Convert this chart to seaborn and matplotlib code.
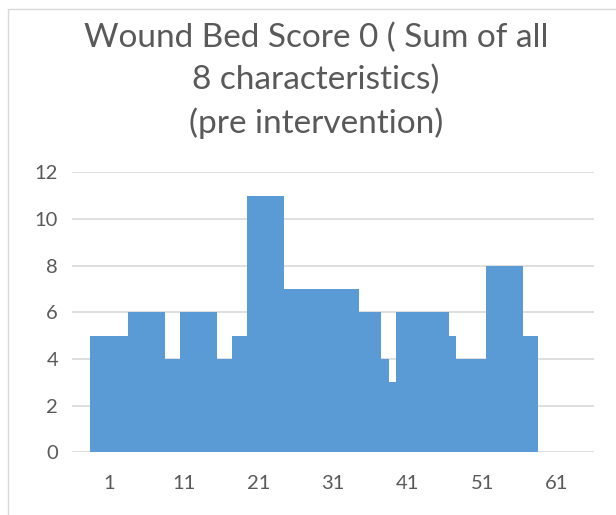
import numpy as np
import pandas as pd
import seaborn as sns
import matplotlib.pyplot as plt
from matplotlib.lines import Line2D

# bar positions (as they sit on the numeric x axis) and the bar heights
score_x = list(range(-1, 59))
score_counts = [5, 5, 5, 5, 5, 6, 6, 6, 6, 6,
                4, 4, 6, 6, 6, 6, 6, 4, 4, 5,
                5, 11, 11, 11, 11, 11, 7, 7, 7, 7,
                7, 7, 7, 7, 7, 7, 6, 6, 6, 4,
                3, 6, 6, 6, 6, 6, 6, 6, 5, 4,
                4, 4, 4, 8, 8, 8, 8, 8, 5, 5]
x_ticks = [1, 11, 21, 31, 41, 51, 61]
y_ticks = [0, 2, 4, 6, 8, 10, 12]
title_text = "Wound Bed Score 0 ( Sum of all\n8 characteristics)\n(pre intervention)"

df = pd.DataFrame({'score': score_x, 'count': score_counts})

sns.set_style('white')
plt.rcParams['font.family'] = ['Lato', 'DejaVu Sans']
text_grey = '#595959'
grid_grey = '#D9D9D9'

fig = plt.figure(figsize=(6.16, 5.15), dpi=100)
ax = fig.add_axes([0.1169, 0.1217, 0.8474, 0.5437])

sns.barplot(data=df, x='score', y='count', native_scale=True, width=1,
            color='#5B9BD5', saturation=1, linewidth=0, ax=ax)

ax.set_xlim(-3.96, 66)
ax.set_ylim(0, 12)
ax.set_xticks(x_ticks)
ax.set_yticks(y_ticks)
ax.set_xlabel('')
ax.set_ylabel('')
ax.yaxis.grid(True, color=grid_grey, linewidth=1.2)
ax.set_axisbelow(True)
for s in ax.spines.values():
    s.set_visible(False)
ax.tick_params(axis='both', length=0, labelsize=14.5, colors=text_grey)
ax.tick_params(axis='y', pad=10)
ax.tick_params(axis='x', pad=16)

# chart title (three lines, centred)
fig.text(0.513, 0.956, title_text, ha='center', va='top', fontsize=24,
         color=text_grey, linespacing=1.47)

# chart area border, only left and top edges are in the crop
fig.add_artist(Line2D([8 / 616, 8 / 616], [0, 1 - 9 / 515], transform=fig.transFigure,
                      color=grid_grey, linewidth=1))
fig.add_artist(Line2D([8 / 616, 1], [1 - 9 / 515, 1 - 9 / 515], transform=fig.transFigure,
                      color=grid_grey, linewidth=1))

fig.savefig('out.png', dpi=100)
